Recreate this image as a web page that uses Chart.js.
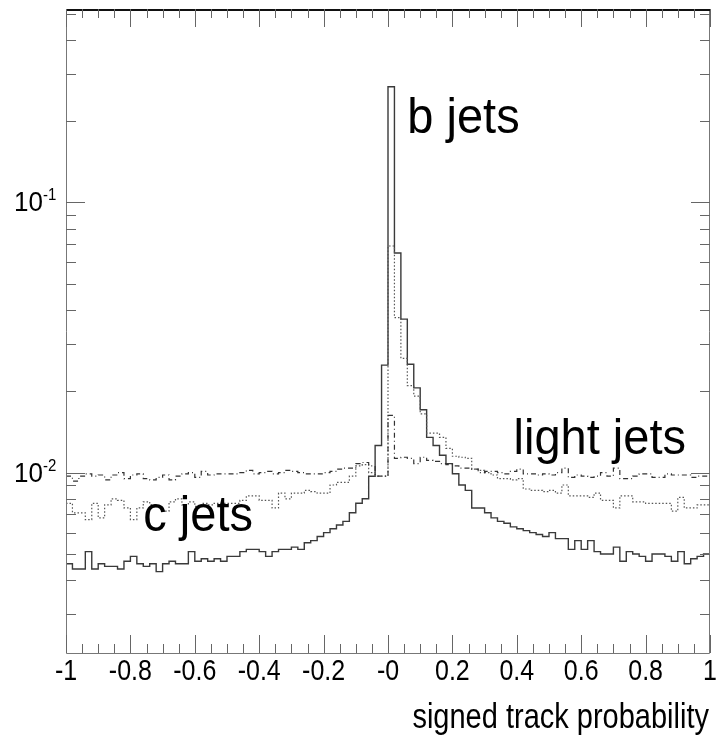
<!DOCTYPE html>
<html><head><meta charset="utf-8">
<script src="https://cdn.jsdelivr.net/npm/chart.js@4/dist/chart.umd.min.js"></script>
<style>html,body{margin:0;padding:0;background:#fff}#wrap{width:716px;height:745px;position:relative}</style>
</head><body><div id="wrap"><canvas id="c" width="716" height="745"></canvas></div>
<script>
// histogram binning (categories)
const binLow = -1, binWidth = 0.02, nBins = 100;

// series values, one per bin
const bJets = [
0.0046,0.0044,0.0044,0.0051,0.0044,0.0046,0.0045,0.0045,0.0044,0.0047,
0.0049,0.0046,0.0045,0.0046,0.0043,0.0046,0.0047,0.0046,0.0046,0.0051,
0.0047,0.0048,0.0047,0.0048,0.0047,0.0049,0.0049,0.0051,0.0052,0.0052,
0.0051,0.0049,0.0051,0.0052,0.0052,0.0053,0.0052,0.0055,0.0056,0.0058,
0.0060,0.0062,0.0064,0.0066,0.0071,0.0077,0.0080,0.0097,0.0126,0.0250,
0.268,0.065,0.037,0.0252,0.0206,0.0171,0.0135,0.0126,0.0116,0.0108,
0.0099,0.0090,0.0086,0.0074,0.0074,0.0071,0.0068,0.0066,0.0065,0.0063,
0.0062,0.0061,0.0060,0.0059,0.0058,0.0060,0.0057,0.0057,0.0052,0.0056,
0.0052,0.0056,0.0051,0.0050,0.0050,0.0053,0.0047,0.0051,0.0050,0.0049,
0.0047,0.0050,0.0050,0.0049,0.0047,0.0051,0.0046,0.0048,0.0049,0.0050];

const cJets = [
0.0077,0.0071,0.0071,0.0067,0.0077,0.0068,0.0076,0.0080,0.0079,0.0074,
0.0067,0.0074,0.0078,0.0076,0.0075,0.0072,0.0078,0.0080,0.0076,0.0078,
0.0075,0.0077,0.0076,0.0077,0.0077,0.0077,0.0077,0.0079,0.0082,0.0082,
0.0079,0.0079,0.0074,0.0084,0.0080,0.0084,0.0084,0.0086,0.0085,0.0084,
0.0084,0.0090,0.0092,0.0092,0.0097,0.0106,0.0107,0.0100,0.0097,0.0097,
0.069,0.0375,0.0265,0.0210,0.0192,0.0165,0.0140,0.0140,0.0135,0.0123,
0.0115,0.0114,0.0113,0.0103,0.0102,0.0100,0.0098,0.0095,0.0095,0.0094,
0.0095,0.0087,0.0086,0.0086,0.0085,0.0086,0.0084,0.0090,0.0082,0.0082,
0.0082,0.0081,0.0084,0.0079,0.0079,0.0074,0.0082,0.0082,0.0078,0.0078,
0.0077,0.0077,0.0077,0.0077,0.0072,0.0081,0.0074,0.0074,0.0076,0.0076];

const lightJets = [
0.0097,0.0093,0.0097,0.0099,0.0097,0.0098,0.0094,0.0098,0.0100,0.0095,
0.0098,0.0099,0.0095,0.0094,0.0096,0.0098,0.0094,0.0097,0.0099,0.0100,
0.0096,0.0101,0.0098,0.0099,0.0099,0.0099,0.0099,0.0100,0.0102,0.0099,
0.0100,0.0101,0.0099,0.0100,0.0102,0.0101,0.0100,0.0099,0.0099,0.0099,
0.0100,0.0101,0.0103,0.0104,0.0104,0.0108,0.0109,0.0106,0.0097,0.0097,
0.0163,0.0113,0.0114,0.0113,0.0108,0.0114,0.0111,0.0110,0.0108,0.0107,
0.0106,0.0104,0.0104,0.0103,0.0100,0.0101,0.0101,0.0100,0.0099,0.0101,
0.0103,0.0099,0.0099,0.0098,0.0099,0.0098,0.0100,0.0104,0.0096,0.0098,
0.0097,0.0096,0.0097,0.0100,0.0097,0.0104,0.0095,0.0095,0.0097,0.0099,
0.0099,0.0096,0.0096,0.0099,0.0098,0.0098,0.0098,0.0096,0.0097,0.0097];

// axis ticks / labels
const xTickValues = [-1,-0.8,-0.6,-0.4,-0.2,0,0.2,0.4,0.6,0.8,1];
const xTickLabels = ['-1','-0.8','-0.6','-0.4','-0.2','-0','0.2','0.4','0.6','0.8','1'];
const yLabelDecades = [-1,-2];
const xTitle = 'signed track probability';
const seriesLabels = [
  {text:'b jets', x:0.06, y:0.18},
  {text:'light jets', x:0.39, y:0.0117},
  {text:'c jets', x:-0.76, y:0.0061}
];

function toPoints(vals){
  const pts = vals.map((v,i)=>({x: binLow + i*binWidth, y: v}));
  pts.push({x: binLow + vals.length*binWidth, y: vals[vals.length-1]});
  return pts;
}

const FONT = '"Liberation Sans", Arial, Helvetica, sans-serif';

function stretchedText(ctx, text, x, y, sy){
  ctx.save(); ctx.translate(x, y); ctx.scale(1, sy); ctx.fillText(text, 0, 0); ctx.restore();
}

const decor = {
  id:'decor',
  afterDraw(chart){
    const ctx = chart.ctx, xs = chart.scales.x, ys = chart.scales.y, a = chart.chartArea;
    ctx.save();
    // frame
    ctx.strokeStyle = '#777'; ctx.lineWidth = 1;
    ctx.beginPath();
    ctx.moveTo(a.left+0.5, a.top); ctx.lineTo(a.left+0.5, a.bottom+0.5);
    ctx.lineTo(a.right-0.5, a.bottom+0.5); ctx.lineTo(a.right-0.5, a.top);
    ctx.stroke();
    ctx.strokeStyle = '#111'; ctx.lineWidth = 2;
    ctx.beginPath(); ctx.moveTo(a.left, a.top+1); ctx.lineTo(a.right, a.top+1); ctx.stroke();
    // x ticks
    ctx.strokeStyle = '#666'; ctx.lineWidth = 1;
    for(let k=0;k<=40;k++){
      const v = -1 + k*0.05;
      const px = Math.round(xs.getPixelForValue(v))+0.5;
      const len = (k%4===0)?18:9;
      ctx.beginPath();
      ctx.moveTo(px, a.bottom); ctx.lineTo(px, a.bottom-len);
      ctx.moveTo(px, a.top); ctx.lineTo(px, a.top+len);
      ctx.stroke();
    }
    // y ticks
    for(let d=-3; d<=0; d++){
      for(let m=1;m<=9;m++){
        const v = m*Math.pow(10,d);
        if(v < ys.min || v > ys.max) continue;
        const py = Math.round(ys.getPixelForValue(v))+0.5;
        const len = (m===1)?19:10;
        ctx.beginPath();
        ctx.moveTo(a.left, py); ctx.lineTo(a.left+len, py);
        ctx.moveTo(a.right, py); ctx.lineTo(a.right-len, py);
        ctx.stroke();
      }
    }
    // x labels
    ctx.fillStyle = '#000';
    ctx.font = '25px ' + FONT;
    ctx.textAlign = 'center'; ctx.textBaseline = 'alphabetic';
    xTickValues.forEach((v,i)=>{
      stretchedText(ctx, xTickLabels[i], xs.getPixelForValue(v), a.bottom + 27, 1.15);
    });
    // y labels 10^d
    yLabelDecades.forEach(d=>{
      const py = ys.getPixelForValue(Math.pow(10,d));
      ctx.font = '26px ' + FONT; ctx.textAlign = 'right';
      stretchedText(ctx, '10', 43, py + 9, 1.07);
      ctx.font = '15px ' + FONT; ctx.textAlign = 'left';
      stretchedText(ctx, String(d), 43, py - 2, 1.07);
    });
    // axis title
    ctx.font = '29px ' + FONT; ctx.textAlign = 'right';
    stretchedText(ctx, xTitle, 709, 728, 1.2);
    // series labels
    ctx.font = '47px ' + FONT; ctx.textAlign = 'left';
    seriesLabels.forEach(l=>{
      stretchedText(ctx, l.text, xs.getPixelForValue(l.x), ys.getPixelForValue(l.y), 1.05);
    });
    ctx.restore();
  }
};

new Chart(document.getElementById('c'), {
  type:'line',
  data:{ datasets:[
    {label:'light jets', data:toPoints(lightJets), borderColor:'#333', borderWidth:1.2, borderDash:[5,3,1,3], stepped:'before', pointRadius:0, fill:false},
    {label:'c jets', data:toPoints(cJets), borderColor:'#555', borderWidth:1.2, borderDash:[1.5,2], stepped:'before', pointRadius:0, fill:false},
    {label:'b jets', data:toPoints(bJets), borderColor:'#3a3a3a', borderWidth:1.4, stepped:'before', pointRadius:0, fill:false}
  ]},
  options:{
    responsive:false, animation:false, devicePixelRatio:1,
    layout:{padding:{left:66, right:6, top:9, bottom:92}},
    plugins:{legend:{display:false}, tooltip:{enabled:false}},
    scales:{
      x:{type:'linear', min:-1, max:1, display:false},
      y:{type:'logarithmic', min:0.00215, max:0.52, display:false}
    }
  },
  plugins:[decor]
});
</script></body></html>
